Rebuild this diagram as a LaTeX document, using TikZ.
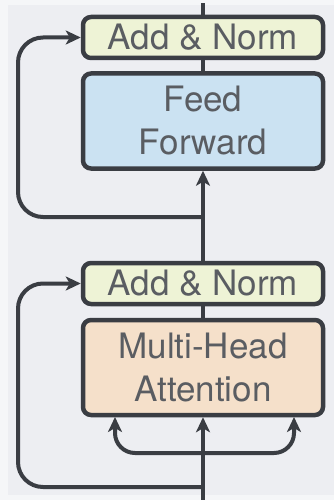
\documentclass[tikz,border=0pt]{standalone}
\usepackage{fontspec}
\setmainfont{TeX Gyre Heros}
\usetikzlibrary{arrows.meta}
\definecolor{pagebg}{HTML}{F5F6F8}
\definecolor{panelbg}{HTML}{EDEEF2}
\definecolor{edgecol}{HTML}{3A3D43}
\definecolor{txtcol}{HTML}{5A5D62}
\definecolor{normfill}{HTML}{EEF3D6}
\definecolor{fffill}{HTML}{CBE2F2}
\definecolor{attfill}{HTML}{F5E0CA}
\tikzset{
  block/.style={draw=edgecol, line width=4.5pt, rounded corners=8pt,
    minimum width=240pt, text=txtcol, align=center, inner sep=0pt,
    font=\fontsize{35}{43}\selectfont},
  normbox/.style={block, fill=normfill, minimum height=41pt},
  bigbox/.style={block, minimum height=95pt},
  wire/.style={draw=edgecol, line width=4pt},
  flow/.style={wire, -{Stealth[length=15pt,width=14pt,inset=4pt]}},
  roundpath/.style={rounded corners=25pt}
}
\begin{document}
\begin{tikzpicture}[x=1pt, y=-1pt]
  % page and panel
  \fill[pagebg] (0,0) rectangle (334,500);
  \fill[panelbg] (8,5) rectangle (334,495);
  \useasboundingbox (0,0) rectangle (334,500);

  % blocks
  \node[normbox] (an1) at (203,37.5) {Add \& Norm};
  \node[bigbox, fill=fffill] (ff) at (203,121) {Feed\\Forward};
  \node[normbox] (an2) at (203,283.5) {Add \& Norm};
  \node[bigbox, fill=attfill] (mha) at (203,367.5) {Multi-Head\\Attention};

  % free ends and branch points
  \coordinate (top) at (203,3);
  \coordinate (bot) at (203,500);
  \coordinate (res1) at (203,217);
  \coordinate (res2) at (203,487);
  \coordinate (split) at (203,453);

  % main path
  \draw[wire] (an1.north) -- (top);
  \draw[wire] (ff.north) -- (an1.south);
  \draw[flow] (an2.north) -- (ff.south);
  \draw[wire] (mha.north) -- (an2.south);
  \draw[flow] (bot) -- (mha.south);

  % attention inputs
  \draw[flow, rounded corners=20pt] (split) -- (115,453) -- (115,417);
  \draw[flow, rounded corners=20pt] (split) -- (294,453) -- (294,417);

  % residual connections
  \draw[flow, roundpath] (res1) -- (18,217) -- (18,37.5) -- (an1.west);
  \draw[flow, roundpath] (res2) -- (18,487) -- (18,283.5) -- (an2.west);
\end{tikzpicture}
\end{document}
